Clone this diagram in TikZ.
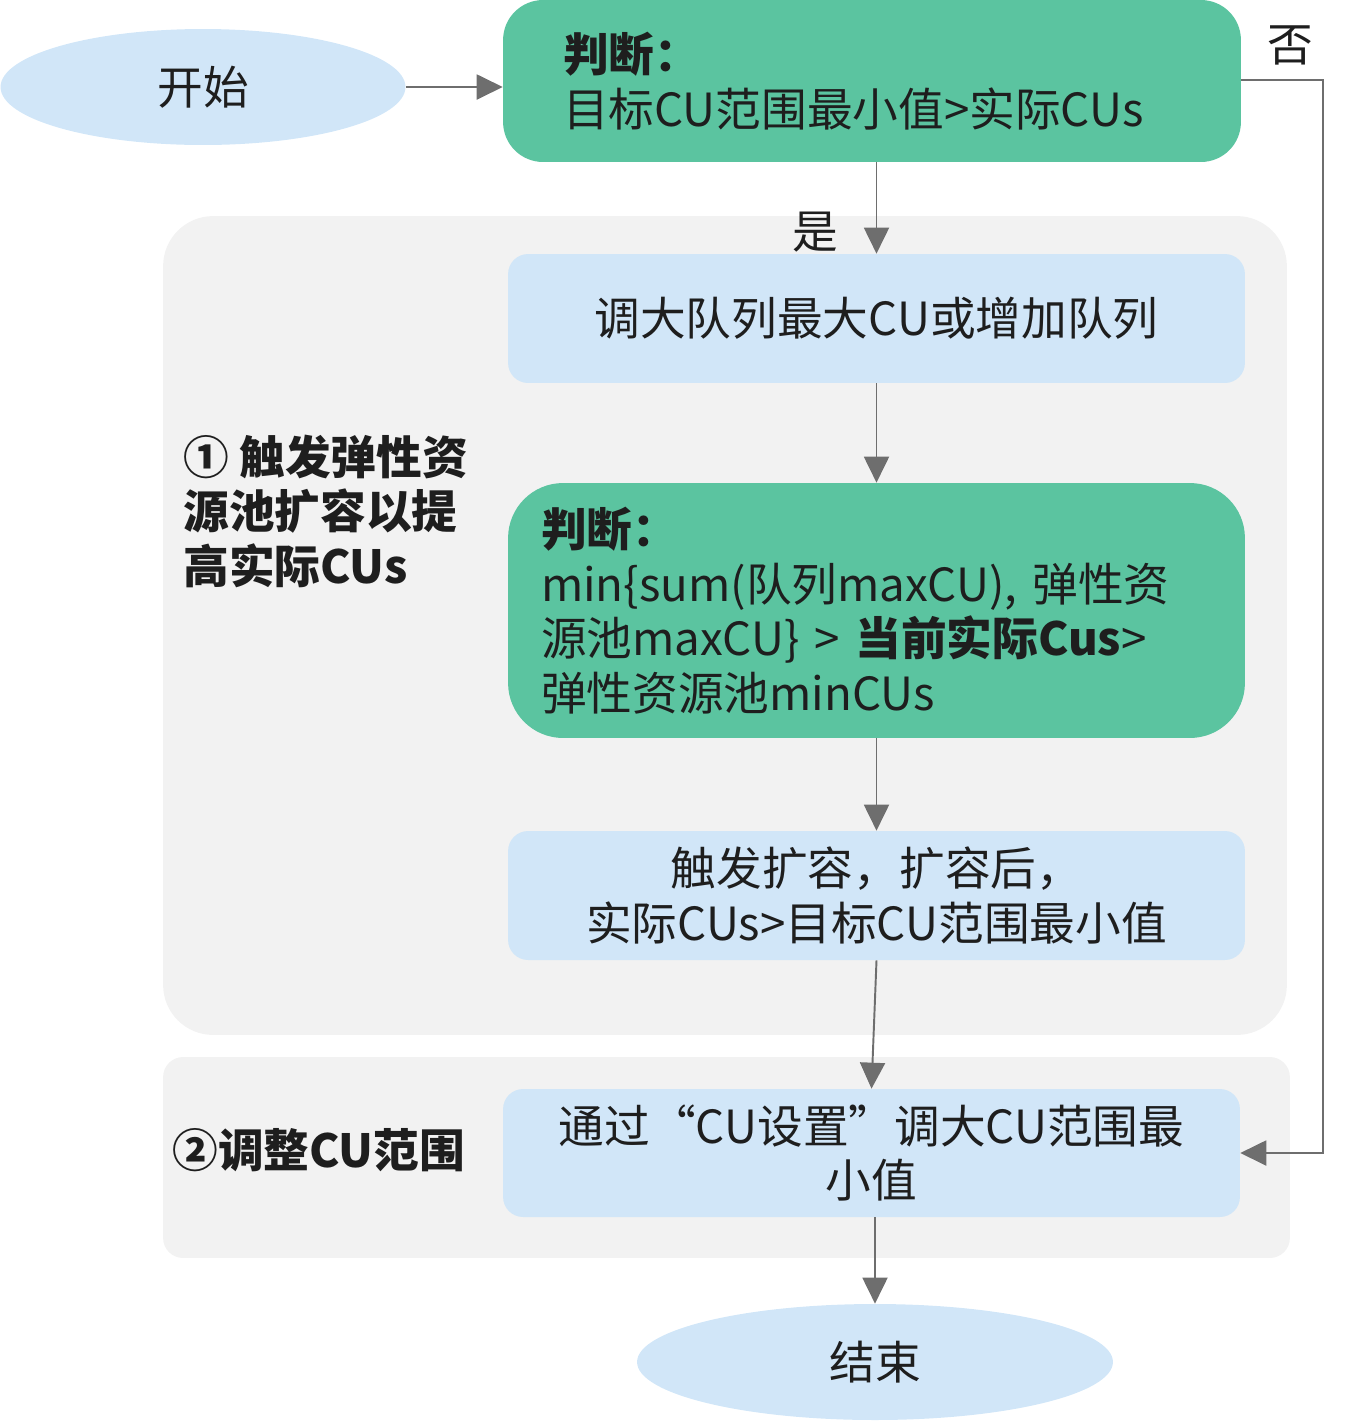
\documentclass[tikz,border=0pt]{standalone}
\usepackage{fontspec}
\setmainfont{Noto Sans CJK SC}
\usepackage{xcolor}
\usetikzlibrary{arrows.meta}
\usetikzlibrary{shapes.geometric}
\usetikzlibrary{positioning}
\definecolor{decgreen}{HTML}{5BC4A0}
\definecolor{boxblue}{HTML}{D1E6F8}
\definecolor{panelgray}{HTML}{F2F2F2}
\definecolor{linegray}{HTML}{6E6E6E}
\definecolor{textblack}{HTML}{1E1E1E}

\begin{document}
\begin{tikzpicture}[x=0.02cm,y=-0.02cm,>={Triangle[length=0.52cm,width=0.5cm]},
                    every node/.style={text=textblack,font=\fontsize{26pt}{31pt}\selectfont},
                    line/.style={draw=linegray,line width=1.1pt,->}]
  \tikzstyle{panel}=[fill=panelgray, inner sep=0pt]
  \tikzstyle{terminal}=[ellipse, fill=boxblue, inner sep=0pt]
  \tikzstyle{decision}=[rectangle, fill=decgreen, align=left, inner ysep=0pt]
  \tikzstyle{process}=[rectangle, fill=boxblue, align=center, rounded corners=0.4cm,
                       minimum width=14.74cm, minimum height=2.58cm, inner sep=0pt]
  \useasboundingbox (0,0) rectangle (1353,1421);
  % panels
  \node[panel, rounded corners=1cm, minimum width=22.48cm, minimum height=16.38cm] (grow) at (725,625.5) {};
  \node[panel, rounded corners=0.4cm, minimum width=22.54cm, minimum height=4.02cm] (adjust) at (726.5,1157.5) {};
  \node[anchor=west, align=left, inner sep=0pt, font=\fontsize{26pt}{31pt}\selectfont\bfseries] (growlabel) at (183,511)
       {① 触发弹性资\\源池扩容以提\\高实际CUs};
  \node[anchor=west, inner sep=0pt, font=\fontsize{26pt}{31pt}\selectfont\bfseries] (adjustlabel) at (172,1150) {②调整CU范围};
  % flow
  \node[terminal, minimum width=8.1cm, minimum height=2.32cm] (start) at (203,87) {开始};
  \node[decision, rounded corners=0.8cm, text width=12.36cm, inner xsep=1.2cm, minimum height=3.24cm] (check) at (872,81)
       {{\bfseries 判断：}\\目标CU范围最小值>实际CUs};
  \node[process] (raise) at (876.5,318.5) {调大队列最大CU或增加队列};
  \node[decision, rounded corners=1.1cm, text width=13.42cm, inner xsep=0.66cm, minimum height=5.1cm] (poolcheck) at (876.5,610.5)
       {{\bfseries 判断：}\\min\{sum(队列maxCU), 弹性资\\源池maxCU\} > {\bfseries 当前实际Cus}>\\弹性资源池minCUs};
  \node[process] (expand) at (876.5,895.5) {触发扩容，扩容后，\\实际CUs>目标CU范围最小值};
  \node[process, minimum height=2.56cm] (setcu) at (871.5,1153) {通过“CU设置”调大CU范围最\\小值};
  \node[terminal, minimum width=9.52cm, minimum height=2.32cm] (end) at (875,1362) {结束};
  \node (no) at (1290,45) {否};
  \node (yes) at (815,232) {是};
  \coordinate (turn) at (1323,80);
  % connectors
  \path[line] (start.east) -- (start.east -| check.west);
  \path[line] (check.south -| raise) -- (raise.north);
  \path[line] (raise.south) -- (poolcheck.north);
  \path[line] (poolcheck.south) -- (expand.north);
  \path[line] (expand.south) -- (setcu.north);
  \path[line] (setcu.south -| end) -- (end.north);
  \path[line] (check.east |- turn) -- (turn) |- (setcu.east);
\end{tikzpicture}
\end{document}
